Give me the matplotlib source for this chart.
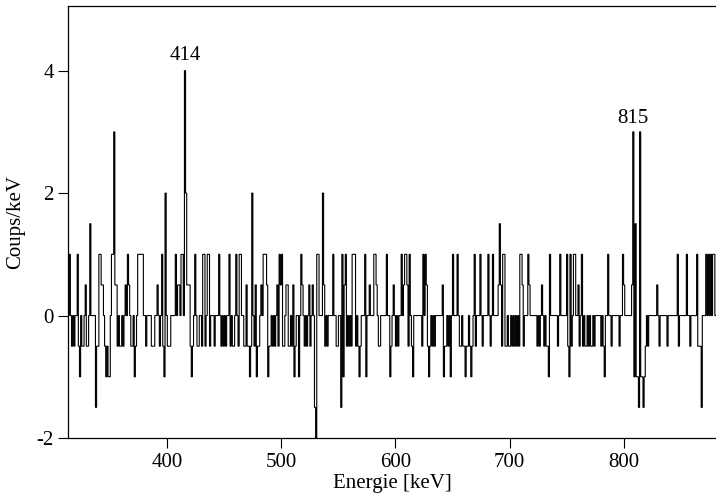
import numpy as np
import matplotlib
matplotlib.use("Agg")
import matplotlib.pyplot as plt

# spectrum: 1 keV bins, non-zero bins only, rest is 0
bin_start = 312
bin_stop = 882

chan_kev = [
    312, 314, 316, 318, 321, 322, 323, 325, 326, 328, 329, 330, 332, 337, 338, 339,
    340, 341, 342, 343, 345, 346, 347, 348, 349, 351, 352, 353, 354, 355, 356, 358,
    359, 361, 363, 365, 366, 368, 369, 371, 372, 374, 375, 376, 377, 378, 381, 386,
    387, 388, 391, 393, 395, 396, 397, 398,
    400, 401, 402, 407, 409, 410, 412, 413, 415, 416, 417, 418, 419, 420, 421, 422,
    424, 426, 427, 430, 431, 432, 433, 435, 436, 437, 441, 445, 447, 449, 451,
    454, 455, 457, 458, 460, 462, 463, 464, 467, 468, 469, 470, 471, 472, 473, 474,
    476, 477, 478, 479, 480, 482, 484, 485, 486, 487, 488, 489, 490, 492, 494, 496,
    497, 498, 499,
    500, 501, 502, 504, 505, 506, 507, 509, 510, 511, 512, 515, 517, 518, 520, 522,
    524, 525, 527, 529, 530, 531, 532, 536, 537, 538, 540, 545, 548, 549, 552, 553,
    554, 555, 556, 557, 559, 561, 562, 563, 564, 565, 567, 568, 569, 573, 574, 577,
    581, 582, 583, 585, 586, 592, 595, 596, 598,
    600, 602, 605, 607, 608, 609, 610, 611, 612, 614, 615, 623, 624, 626, 627, 628,
    629, 630, 632, 634, 641, 642, 643, 644, 646, 648, 650, 654, 656, 657, 659, 660,
    661, 662, 663, 665, 666, 667, 669, 670, 674, 676, 681, 683, 685, 690, 691, 692,
    693, 694, 695, 696, 697, 699,
    700, 702, 704, 706, 708, 709, 710, 711, 712, 716, 717, 724, 726, 728, 730, 732,
    733, 734, 735, 742, 744, 750, 751, 752, 753, 754, 756, 757, 760, 761, 763, 764,
    766, 767, 769, 771, 772, 774, 780, 782, 783, 786, 789, 796, 799, 800, 807, 808,
    809, 810, 811, 812, 813, 814, 815, 816, 817, 818, 819, 821, 829, 831, 838, 847,
    848, 855, 858, 864, 865, 866, 867, 868, 872, 874, 876, 878, 879,
]

rate = [
    -0.5, 1, -0.5, -0.5, 1, -0.5, -1, -0.5, -0.5, 0.5, -0.5, -0.5, 1.5, -1.5, -0.5, -0.5,
    1, 1, 0.5, 0.5, -0.5, -1, -0.5, -1, -1, 1, 1, 3, 0.5, 0.5, -0.5, -0.5,
    -0.5, -0.5, 0.5, 1, 0.5, -0.5, -0.5, -1, -0.5, 1, 1, 1, 1, 1, -0.5, -0.5,
    -0.5, -0.5, 0.5, -0.5, 1, -0.5, -1, 2,
    -0.5, -0.5, -0.5, 1, 0.5, 0.5, 1, 1, 4, 2, 0.5, 0.5, 0.5, -0.5, -1, -0.5,
    1, -0.5, -0.5, -0.5, 1, 1, -0.5, 1, 1, -0.5, -0.5, 1, -0.5, -0.5, -0.5,
    1, -0.5, -0.5, -0.5, 1, -0.5, 1, 1, -0.5, -0.5, 0.5, -0.5, -0.5, -1, -0.5, 2,
    -0.5, 0.5, -1, -0.5, -0.5, 0.5, 1, 1, 1, 0.5, -1, -0.5, -0.5, -0.5, -0.5, 0.5,
    -0.5, 1, 0.5,
    1, -0.5, -0.5, 0.5, 0.5, -0.5, -0.5, -0.5, 0.5, -1, -0.5, -1, 1, 0.5, -0.5, -0.5,
    0.5, -0.5, 0.5, -1.5, -2.5, 1, 1, 2, 0.5, -0.5, -0.5, 1, -0.5, -0.5, -1.5, 1,
    -1, 0.5, 1, -0.5, -0.5, -0.5, 1, 1, 1, -0.5, -0.5, -1, -0.5, 1, -1, 0.5,
    1, 1, 0.5, -0.5, -0.5, 1, -1, -0.5, 0.5,
    -0.5, -0.5, 1, 0.5, 1, 1, 0.5, -0.5, 1, -0.5, -1, -0.5, 1, 1, 0.5, -0.5,
    -1, -0.5, -0.5, -0.5, 0.5, -1, -0.5, -0.5, -0.5, -1, 1, 1, -0.5, -0.5, -0.5, -0.5,
    -1, -0.5, -0.5, -0.5, -1, -0.5, 1, -0.5, 1, -0.5, 1, -0.5, 1, 0.5, 1.5, 0.5,
    -0.5, 1, 1, -0.5, -0.5, -0.5,
    -0.5, -0.5, -0.5, -0.5, -0.5, 1, 1, 0.5, -0.5, 1, 0.5, -0.5, -0.5, 0.5, -0.5, -0.5,
    -0.5, -1, 1, -0.5, 1, 1, -0.5, -1, 1, -0.5, 1, 1, 0.5, -0.5, 1, -0.5,
    -0.5, -0.5, -0.5, -0.5, -0.5, -0.5, -0.5, -0.5, -1, 1, -0.5, -0.5, 1, 0.5, 0.5, 3,
    -1, 1.5, -1, -1, -1.5, 3, -1, -1, -1.5, -1, -0.5, -0.5, 0.5, -0.5, -0.5, 1,
    -0.5, 1, -0.5, 1, -0.5, -0.5, -0.5, -1.5, 1, 1, 1, 1, 1,
]

peak_labels = ["414", "815"]
peak_x = [415.4, 808.3]
peak_y = [4.17, 3.15]

plt.rcParams["font.family"] = ["Liberation Serif", "DejaVu Serif"]
plt.rcParams["axes.unicode_minus"] = False

edges = np.arange(bin_start, bin_stop + 1)
values = np.zeros(len(edges) - 1)
for e, v in zip(chan_kev, rate):
    values[e - bin_start] = v

fig = plt.figure(figsize=(7.16, 4.97), dpi=100)
ax = fig.add_axes([68.3 / 716, 59 / 497, 1 - 68.3 / 716, 432 / 497])

ax.stairs(values, edges, baseline=None, color="black", linewidth=0.8)

for lab, x, y in zip(peak_labels, peak_x, peak_y):
    ax.text(x, y, lab, ha="center", va="baseline", fontsize=15)

ax.set_xlim(313.2, 881)
ax.set_ylim(-2, 5.056)
ax.set_xticks([400, 500, 600, 700, 800])
ax.set_yticks([-2, 0, 2, 4])
ax.tick_params(direction="out", length=7, width=0.8, labelsize=15, pad=3.5)
ax.spines["right"].set_visible(False)
for s in ["left", "bottom", "top"]:
    ax.spines[s].set_linewidth(0.9)

ax.set_xlabel("Energie [keV]", fontsize=15, labelpad=2)
ax.set_ylabel("Coups/keV", fontsize=15, labelpad=8)

fig.savefig("out.png", dpi=100)
